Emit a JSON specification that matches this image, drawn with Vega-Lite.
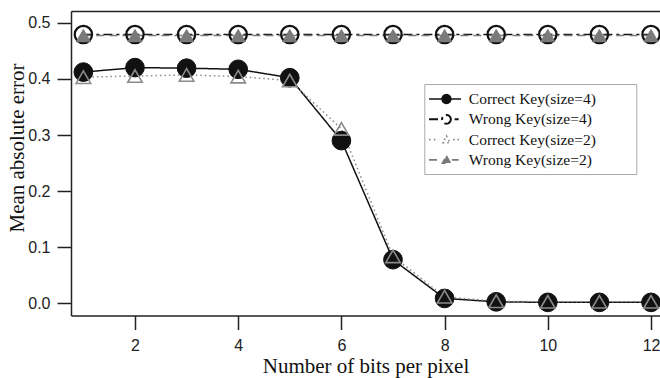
{
  "$schema": "https://vega.github.io/schema/vega-lite/v6.json",
  "width": 589,
  "height": 304.5,
  "autosize": {"type": "none"},
  "padding": {"left": 71, "top": 11, "right": 0, "bottom": 62.5},
  "background": "white",
  "config": {
    "view": {"stroke": null},
    "axis": {"grid": false}
  },
  "data": {
    "values": [
      {"bits": 1, "mae": 0.412, "series": "Correct Key(size=4)"},
      {"bits": 2, "mae": 0.420, "series": "Correct Key(size=4)"},
      {"bits": 3, "mae": 0.419, "series": "Correct Key(size=4)"},
      {"bits": 4, "mae": 0.417, "series": "Correct Key(size=4)"},
      {"bits": 5, "mae": 0.402, "series": "Correct Key(size=4)"},
      {"bits": 6, "mae": 0.290, "series": "Correct Key(size=4)"},
      {"bits": 7, "mae": 0.078, "series": "Correct Key(size=4)"},
      {"bits": 8, "mae": 0.009, "series": "Correct Key(size=4)"},
      {"bits": 9, "mae": 0.003, "series": "Correct Key(size=4)"},
      {"bits": 10, "mae": 0.002, "series": "Correct Key(size=4)"},
      {"bits": 11, "mae": 0.002, "series": "Correct Key(size=4)"},
      {"bits": 12, "mae": 0.002, "series": "Correct Key(size=4)"},
      {"bits": 1, "mae": 0.479, "series": "Wrong Key(size=4)"},
      {"bits": 2, "mae": 0.479, "series": "Wrong Key(size=4)"},
      {"bits": 3, "mae": 0.479, "series": "Wrong Key(size=4)"},
      {"bits": 4, "mae": 0.479, "series": "Wrong Key(size=4)"},
      {"bits": 5, "mae": 0.479, "series": "Wrong Key(size=4)"},
      {"bits": 6, "mae": 0.479, "series": "Wrong Key(size=4)"},
      {"bits": 7, "mae": 0.479, "series": "Wrong Key(size=4)"},
      {"bits": 8, "mae": 0.479, "series": "Wrong Key(size=4)"},
      {"bits": 9, "mae": 0.479, "series": "Wrong Key(size=4)"},
      {"bits": 10, "mae": 0.479, "series": "Wrong Key(size=4)"},
      {"bits": 11, "mae": 0.479, "series": "Wrong Key(size=4)"},
      {"bits": 12, "mae": 0.479, "series": "Wrong Key(size=4)"},
      {"bits": 1, "mae": 0.403, "series": "Correct Key(size=2)"},
      {"bits": 2, "mae": 0.405, "series": "Correct Key(size=2)"},
      {"bits": 3, "mae": 0.407, "series": "Correct Key(size=2)"},
      {"bits": 4, "mae": 0.404, "series": "Correct Key(size=2)"},
      {"bits": 5, "mae": 0.397, "series": "Correct Key(size=2)"},
      {"bits": 6, "mae": 0.311, "series": "Correct Key(size=2)"},
      {"bits": 7, "mae": 0.084, "series": "Correct Key(size=2)"},
      {"bits": 8, "mae": 0.012, "series": "Correct Key(size=2)"},
      {"bits": 9, "mae": 0.004, "series": "Correct Key(size=2)"},
      {"bits": 10, "mae": 0.003, "series": "Correct Key(size=2)"},
      {"bits": 11, "mae": 0.003, "series": "Correct Key(size=2)"},
      {"bits": 12, "mae": 0.003, "series": "Correct Key(size=2)"},
      {"bits": 1, "mae": 0.477, "series": "Wrong Key(size=2)"},
      {"bits": 2, "mae": 0.477, "series": "Wrong Key(size=2)"},
      {"bits": 3, "mae": 0.477, "series": "Wrong Key(size=2)"},
      {"bits": 4, "mae": 0.477, "series": "Wrong Key(size=2)"},
      {"bits": 5, "mae": 0.477, "series": "Wrong Key(size=2)"},
      {"bits": 6, "mae": 0.477, "series": "Wrong Key(size=2)"},
      {"bits": 7, "mae": 0.477, "series": "Wrong Key(size=2)"},
      {"bits": 8, "mae": 0.477, "series": "Wrong Key(size=2)"},
      {"bits": 9, "mae": 0.477, "series": "Wrong Key(size=2)"},
      {"bits": 10, "mae": 0.477, "series": "Wrong Key(size=2)"},
      {"bits": 11, "mae": 0.477, "series": "Wrong Key(size=2)"},
      {"bits": 12, "mae": 0.477, "series": "Wrong Key(size=2)"}
    ]
  },
  "layer": [
    {
      "transform": [{"calculate": "datum.series", "as": "dashKey"}],
      "mark": {"type": "line", "strokeWidth": 1.5},
      "encoding": {
        "x": {
          "field": "bits", "type": "quantitative",
          "scale": {"domain": [0.76, 12.174], "nice": false, "zero": false},
          "axis": {
            "orient": "bottom",
            "title": "Number of bits per pixel",
            "values": [2, 4, 6, 8, 10, 12],
            "format": "d",
            "tickSize": 14, "tickColor": "#222", "tickWidth": 1.5,
            "domainColor": "#222", "domainWidth": 1.5,
            "labelFont": "Liberation Sans", "labelFontSize": 16, "labelColor": "#222",
            "labelPadding": 8,
            "titleFont": "Liberation Serif", "titleFontSize": 21, "titleFontWeight": "normal",
            "titleColor": "#111", "titleBaseline": "alphabetic", "titleY": 57
          }
        },
        "y": {
          "field": "mae", "type": "quantitative",
          "scale": {"domain": [-0.0214, 0.5208], "nice": false, "zero": false},
          "axis": {
            "title": "Mean absolute error",
            "values": [0, 0.1, 0.2, 0.3, 0.4, 0.5],
            "format": ".1f",
            "tickSize": 14, "tickColor": "#222", "tickWidth": 1.5,
            "domainColor": "#222", "domainWidth": 1.5,
            "labelFont": "Liberation Sans", "labelFontSize": 16, "labelColor": "#222",
            "labelPadding": 7,
            "titleFont": "Liberation Serif", "titleFontSize": 21, "titleFontWeight": "normal",
            "titleColor": "#111", "titleAngle": -90, "titleAlign": "center",
            "titleBaseline": "alphabetic", "titleX": -47.5, "titleY": 136.5
          }
        },
        "color": {
          "field": "series", "type": "nominal",
          "scale": {
            "domain": ["Correct Key(size=4)", "Wrong Key(size=4)", "Correct Key(size=2)", "Wrong Key(size=2)"],
            "range": ["#111111", "#111111", "#8a8a8a", "#7a7a7a"]
          },
          "legend": {
            "orient": "none", "legendX": 353.3, "legendY": 73,
            "title": null,
            "padding": 5,
            "strokeColor": "#aaaaaa",
            "fillColor": "white",
            "symbolSize": 256,
            "labelOffset": 24,
            "rowPadding": 1.3,
            "labelLimit": 400,
            "labelFont": "Liberation Serif", "labelFontSize": 15.5, "labelColor": "#111",
            "encode": {
              "labels": {
                "update": {
                  "y": {"value": 10}
                }
              },
              "symbols": {
                "update": {
                  "y": {"value": 10},
                  "shape": {"signal": "datum.value === 'Correct Key(size=4)' ? 'M-1 0L3 0M1.725 0L1.683 0.21L1.564 0.389L1.385 0.508L1.175 0.55L0.965 0.508L0.786 0.389L0.667 0.21L0.625 0L0.667 -0.21L0.786 -0.389L0.965 -0.508L1.175 -0.55L1.385 -0.508L1.564 -0.389L1.683 -0.21ZM23.7 0' : datum.value === 'Wrong Key(size=4)' ? 'M-1 0L0.625 0M1.725 0L1.683 0.21L1.564 0.389L1.385 0.508L1.175 0.55L0.965 0.508L0.786 0.389L0.667 0.21L0.625 0L0.667 -0.21L0.786 -0.389L0.965 -0.508L1.175 -0.55L1.385 -0.508L1.564 -0.389L1.683 -0.21ZM2.2 0L2.7 0M23.7 0' : datum.value === 'Correct Key(size=2)' ? 'M-1 0L-0.8 0M-0.4 0L-0.2 0M2.0 0L2.2 0M2.55 0L2.75 0M1.175 -0.45L1.625 0.4L0.725 0.4ZM23.7 0' : 'M-1 0L0.1 0M1.85 0L2.7 0M1.175 -0.5L1.675 0.4L0.675 0.4ZM23.7 0'"},
                  "fill": {"signal": "datum.value === 'Correct Key(size=4)' ? '#111111' : datum.value === 'Wrong Key(size=2)' ? '#7a7a7a' : 'white'"},
                  "stroke": {"signal": "datum.value === 'Correct Key(size=4)' || datum.value === 'Wrong Key(size=4)' ? '#111111' : '#7a7a7a'"},
                  "strokeWidth": {"signal": "datum.value === 'Wrong Key(size=4)' ? 2 : 1.6"},
                  "opacity": {"value": 1}
                }
              }
            }
          }
        },
        "strokeDash": {
          "field": "dashKey", "type": "nominal",
          "scale": {
            "domain": ["Correct Key(size=4)", "Wrong Key(size=4)", "Correct Key(size=2)", "Wrong Key(size=2)"],
            "range": [[1, 0], [9, 4, 3, 4], [1.5, 3], [8, 5]]
          },
          "legend": null
        }
      }
    },
    {
      "transform": [{"filter": "datum.series === 'Correct Key(size=4)'"}],
      "mark": {"type": "point", "shape": "circle", "size": 350, "filled": true, "fill": "#111111", "stroke": "#111111", "strokeWidth": 1, "opacity": 1},
      "encoding": {
        "x": {"field": "bits", "type": "quantitative", "axis": null},
        "y": {"field": "mae", "type": "quantitative"}
      }
    },
    {
      "transform": [{"filter": "datum.series === 'Wrong Key(size=4)'"}],
      "mark": {"type": "point", "shape": "circle", "size": 300, "filled": false, "fill": "transparent", "stroke": "#111111", "strokeWidth": 2.2, "opacity": 1},
      "encoding": {
        "x": {"field": "bits", "type": "quantitative", "axis": null},
        "y": {"field": "mae", "type": "quantitative"}
      }
    },
    {
      "transform": [{"filter": "datum.series === 'Correct Key(size=2)'"}],
      "mark": {"type": "point", "shape": "triangle-up", "size": 210, "filled": false, "fill": "transparent", "stroke": "#8a8a8a", "strokeWidth": 1.6, "opacity": 1},
      "encoding": {
        "x": {"field": "bits", "type": "quantitative", "axis": null},
        "y": {"field": "mae", "type": "quantitative"}
      }
    },
    {
      "transform": [{"filter": "datum.series === 'Wrong Key(size=2)'"}],
      "mark": {"type": "point", "shape": "triangle-up", "size": 200, "filled": true, "fill": "#7a7a7a", "stroke": "#7a7a7a", "strokeWidth": 1, "opacity": 1},
      "encoding": {
        "x": {"field": "bits", "type": "quantitative", "axis": {"orient": "top", "ticks": false, "labels": false, "title": null, "domainColor": "#222", "domainWidth": 1.5}},
        "y": {"field": "mae", "type": "quantitative"}
      }
    }
  ],
  "resolve": {"axis": {"x": "independent"}}
}
